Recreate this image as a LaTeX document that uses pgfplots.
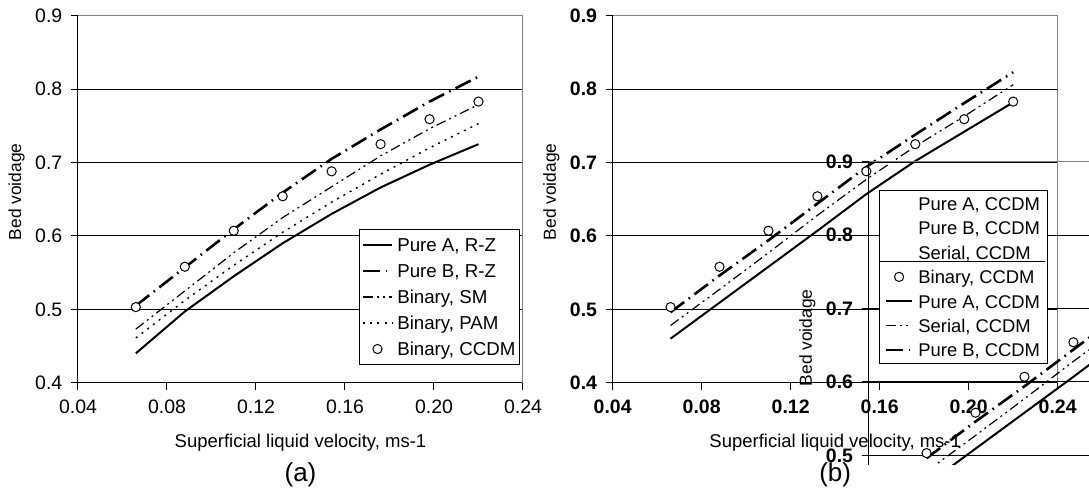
\documentclass[border=0pt]{standalone}
\usepackage{fontspec}
\setmainfont{Liberation Sans}
\usepackage{pgfplots}
\usepackage{pgfplotstable}
\pgfplotsset{compat=1.18}

\pgfplotsset{
  pureA/.style={black, line width=1pt, solid, mark=none,
    legend image code/.code={\draw[##1] (0pt,0pt) -- (\legw,0pt);}},
  pureB/.style={black, line width=1.3pt, mark=none, dash pattern=on 8.5pt off 2.8pt on 0.8pt off 2.8pt,
    legend image code/.code={\draw[##1] (0pt,0pt) -- (\legw,0pt);}},
  sm/.style={black, line width=0.6pt, mark=none, dash pattern=on 5pt off 2pt on 1pt off 2pt on 1pt off 2pt,
    legend image code/.code={\draw[##1] (0pt,0pt) -- (\legw,0pt);}},
  pam/.style={black, line width=0.7pt, mark=none, dash pattern=on 1pt off 2.6pt,
    legend image code/.code={\draw[##1] (0pt,0pt) -- (\legw,0pt);}},
  circ/.style={only marks, mark=*, mark size=2.3pt, mark options={solid, draw=black, fill=white, line width=0.5pt},
    legend image code/.code={\draw[##1, only marks] plot coordinates {({0.5*\legw},0pt)};}},
  panel/.style={
    scale only axis, width=222.5pt, height=183.5pt,
    anchor=south west,
    xmin=0.04, xmax=0.24, ymin=0.4, ymax=0.9,
    xtick={0.04,0.08,0.12,0.16,0.20,0.24},
    xticklabels={0.04,0.08,0.12,0.16,0.20,0.24},
    ytick={0.4,0.5,0.6,0.7,0.8,0.9},
    yticklabels={0.4,0.5,0.6,0.7,0.8,0.9},
    axis x line*=bottom, axis y line*=left,
    axis line style={black, line width=0.5pt},
    tick align=outside, major tick length=3.5pt,
    tick style={black, line width=0.5pt},
    ymajorgrids, major grid style={black, line width=0.5pt},
    clip mode=individual,
    xlabel={Superficial liquid velocity, ms-1},
    ylabel={Bed voidage},
    xlabel style={font=\fontsize{9.25}{10}\selectfont, at={(axis description cs:0.5,-0.163)}, anchor=center},
    ylabel style={font=\fontsize{8.7}{10}\selectfont, at={(axis description cs:-0.138,0.52)}, anchor=center},
    xticklabel style={yshift=-1.5pt},
    yticklabel style={xshift=-0.8pt},
    after end axis/.code={\draw[black!50, line width=0.5pt] (rel axis cs:0,1) -- (rel axis cs:1,1) -- (rel axis cs:1,0);},
  },
}

\begin{document}
\pgfplotstableread{
x y
0.066 0.503
0.088 0.558
0.110 0.607
0.132 0.654
0.154 0.688
0.176 0.725
0.198 0.759
0.220 0.783
}\ccdm
\pgfplotstableread{
x y
0.066 0.440
0.088 0.497
0.110 0.545
0.132 0.590
0.154 0.630
0.176 0.666
0.198 0.697
0.220 0.725
}\apureA
\pgfplotstableread{
x y
0.066 0.505
0.088 0.557
0.110 0.609
0.132 0.659
0.154 0.705
0.176 0.745
0.198 0.783
0.220 0.817
}\apureB
\pgfplotstableread{
x y
0.066 0.473
0.088 0.525
0.110 0.577
0.132 0.625
0.154 0.667
0.176 0.709
0.198 0.746
0.220 0.779
}\asm
\pgfplotstableread{
x y
0.066 0.461
0.088 0.512
0.110 0.560
0.132 0.605
0.154 0.646
0.176 0.684
0.198 0.720
0.220 0.753
}\apam
\pgfplotstableread{
x y
0.066 0.460
0.088 0.509
0.110 0.558
0.132 0.607
0.154 0.657
0.176 0.702
0.198 0.742
0.220 0.782
}\bpureA
\pgfplotstableread{
x y
0.066 0.478
0.088 0.527
0.110 0.577
0.132 0.628
0.154 0.677
0.176 0.722
0.198 0.763
0.220 0.806
}\bserial
\pgfplotstableread{
x y
0.066 0.496
0.088 0.546
0.110 0.594
0.132 0.644
0.154 0.694
0.176 0.738
0.198 0.781
0.220 0.823
}\bpureB

\begin{tikzpicture}
\useasboundingbox (0,0) rectangle (544.5pt,247.5pt);
\def\legw{14.5pt}
% ---------------- panel (a)
\begin{axis}[panel, at={(39pt,56.15pt)},
  tick label style={font=\fontsize{9.75}{10}\selectfont},
  legend cell align=left,
  legend style={at={(axis description cs:0.631,0.418)}, anchor=north west,
    draw=black, line width=0.5pt, fill=white, font=\fontsize{9.35}{11}\selectfont,
    inner xsep=1.2pt, inner ysep=3pt, row sep=3.8pt, column sep=1pt,
    nodes={inner xsep=1pt, inner ysep=0pt, text height=8pt, text depth=1.2pt}}]
\addplot[pureA] table {\apureA};
\addlegendentry{Pure A, R-Z}
\addplot[pureB] table {\apureB};
\addlegendentry{Pure B, R-Z}
\addplot[sm] table {\asm};
\addlegendentry{Binary, SM}
\addplot[pam] table {\apam};
\addlegendentry{Binary, PAM}
\addplot[circ] table {\ccdm};
\addlegendentry{Binary, CCDM}
\node[font=\fontsize{13}{15}\selectfont] at (rel axis cs:0.5,-0.25) {(a)};
\end{axis}
% ---------------- panel (b)
\begin{axis}[panel, at={(306.35pt,56.15pt)},
  tick label style={font=\fontsize{9.75}{10}\selectfont\bfseries}]
\addplot[pureA] table {\bpureA};
\addplot[sm] table {\bserial};
\addplot[pureB] table {\bpureB};
\addplot[circ] table {\ccdm};
\node[font=\fontsize{13}{15}\selectfont] at (rel axis cs:0.5,-0.25) {(b)};
\end{axis}
% ---------------- shifted copy of panel (b)
\begin{scope}
\clip (390pt,15.5pt) rectangle (544.5pt,172.5pt);
\def\legw{13pt}
\begin{axis}[panel, at={(434.35pt,-16.85pt)},
  tick label style={font=\fontsize{9.75}{10}\selectfont\bfseries},
  legend cell align=left,
  legend style={at={(axis description cs:0.0238,0.923)}, anchor=north west,
    draw=black, line width=0.5pt, fill=white, font=\fontsize{9.2}{11}\selectfont,
    inner xsep=2.5pt, inner ysep=2pt, row sep=3pt, column sep=1.5pt,
    nodes={inner xsep=1pt, inner ysep=0pt, text height=8pt, text depth=1.2pt}}]
\addlegendimage{empty legend}\addlegendentry{Pure A, CCDM}
\addlegendimage{empty legend}\addlegendentry{Pure B, CCDM}
\addlegendimage{empty legend}\addlegendentry{Serial, CCDM}
\addlegendimage{circ}\addlegendentry{Binary, CCDM}
\addlegendimage{pureA}\addlegendentry{Pure A, CCDM}
\addlegendimage{sm}\addlegendentry{Serial, CCDM}
\addlegendimage{pureB}\addlegendentry{Pure B, CCDM}
\addplot[pureA, forget plot] table {\bpureA};
\addplot[sm, forget plot] table {\bserial};
\addplot[pureB, forget plot] table {\bpureB};
\addplot[circ, forget plot] table {\ccdm};
\end{axis}
\draw[black, line width=0.5pt] (439.65pt,117pt) -- (522.5pt,117pt);
\end{scope}
\end{tikzpicture}
\end{document}
